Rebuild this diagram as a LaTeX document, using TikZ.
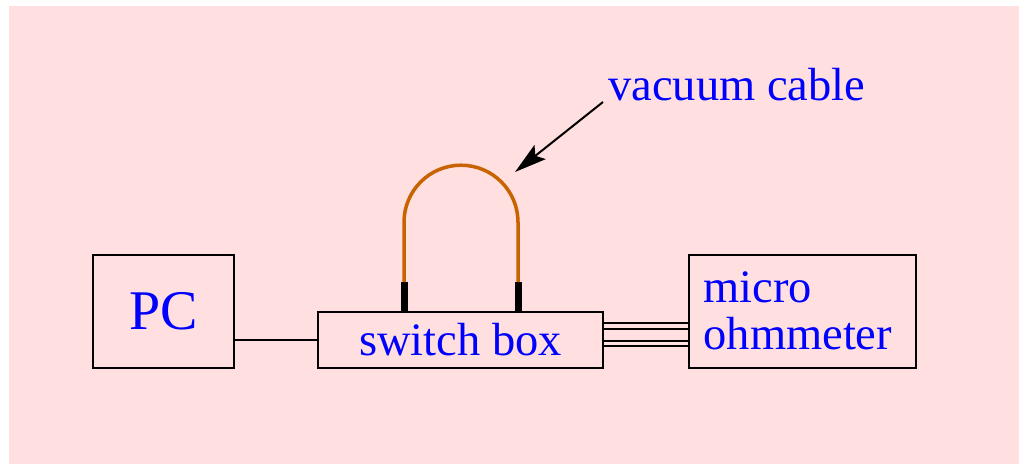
\documentclass[tikz,border=0pt]{standalone}
\usepackage{fontspec}
\setmainfont{Liberation Serif}
\usetikzlibrary{arrows.meta}
\definecolor{bgpink}{RGB}{255,223,223}
\definecolor{cableorange}{RGB}{200,100,0}
\definecolor{txtblue}{RGB}{0,0,255}
\begin{document}
\begin{tikzpicture}[x=1pt,y=-1pt,
  box/.style={draw=black,line width=1.6pt,rectangle,inner sep=0pt,text=txtblue,
    font=\fontsize{46.5}{46.6}\selectfont},
  wire/.style={draw=black,line width=1.6pt},
  plug/.style={draw=black,line width=7pt},
  cable/.style={draw=cableorange,line width=3.5pt},
  lbl/.style={text=txtblue,inner sep=0pt,font=\fontsize{46.5}{46.6}\selectfont}]
\useasboundingbox (0,0) rectangle (1019,464);
\fill[bgpink] (9,6) rectangle (1019,464);
\node[box,minimum width=141pt,minimum height=113pt,font=\fontsize{56}{56}\selectfont] (pc) at (163.5,311.5) {PC};
\node[box,minimum width=285pt,minimum height=56pt] (sw) at (460.5,340) {switch box};
\node[box,minimum width=227pt,minimum height=113pt,text width=198pt,align=left] (meter) at (802.5,311.5) {\raisebox{2pt}{micro}\\\raisebox{2pt}{ohmmeter}};
\node[lbl,anchor=base west] (vc) at (608,100.7) {vacuum cable};
% PC to switch box
\draw[wire] (pc.east |- sw.west) -- (sw.west);
% switch box to ohmmeter
\foreach \d in {17,11,-1,-6}{
  \draw[wire,line width=1.5pt] ([yshift=\d pt]sw.east) -- ([yshift=\d pt]sw.east -| meter.west);
}
% plugs
\coordinate (pl) at ([xshift=-56.5pt]sw.north);
\coordinate (pr) at ([xshift=57.5pt]sw.north);
\draw[plug] (pl) -- ++(0,-29);
\draw[plug] (pr) -- ++(0,-29);
% cable
\draw[cable] ([yshift=29pt]pl) -- ++(0,-60) arc[start angle=180,end angle=360,radius=57] -- ([yshift=29pt]pr);
% arrow
\coordinate (atail) at (603,102);
\coordinate (atip) at (515,172);
\draw[wire,line width=2pt,-{Stealth[length=32pt,width=18pt,inset=6pt]}] (atail) -- (atip);
\end{tikzpicture}
\end{document}
